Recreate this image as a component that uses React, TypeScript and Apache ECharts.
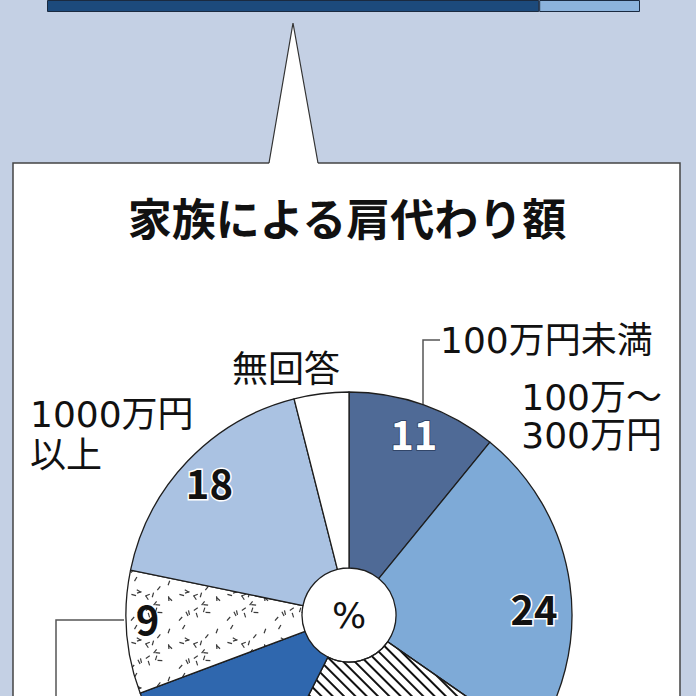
import React, { useEffect, useRef } from 'react';
import * as echarts from 'echarts';

// 家族による肩代わり額 (%), clockwise from 12 o'clock
const categories = [
  '100万円未満',
  '100万〜300万円',
  '300万〜500万円',
  '500万〜700万円',
  '700万〜1000万円',
  '1000万円以上',
  '無回答'
];
const shares = [11, 24, 23, 12, 9, 18, 4];
const sliceColors = ['#4f6a96', '#7eaad7', '#ffffff', '#2f67ae', '#ffffff', '#aac2e2', '#ffffff'];

// cropped stacked bar of the chart above
const barSegments = [83, 17];
const barColors = ['#1c4a7c', '#8cb3dc'];

const JP = "'Noto Sans CJK JP', 'Noto Sans', sans-serif";
const LABEL_FONT = "'DejaVu Sans', 'Noto Sans CJK JP', sans-serif";

// speckled texture for the 700万〜1000万円 slice
function makeSpeckle(): HTMLCanvasElement {
  const size = 48;
  const c = document.createElement('canvas');
  c.width = size;
  c.height = size;
  const ctx = c.getContext('2d')!;
  ctx.fillStyle = '#ffffff';
  ctx.fillRect(0, 0, size, size);
  ctx.strokeStyle = '#3a3a3a';
  ctx.lineWidth = 1.2;
  let seed = 11;
  const rnd = () => {
    seed = (seed * 16807) % 2147483647;
    return seed / 2147483647;
  };
  for (let i = 0; i < 20; i++) {
    const x = 3 + rnd() * (size - 6);
    const y = 3 + rnd() * (size - 6);
    const a = rnd() * Math.PI;
    const l = 2.4;
    ctx.beginPath();
    ctx.moveTo(x - Math.cos(a) * l, y - Math.sin(a) * l);
    ctx.lineTo(x + Math.cos(a) * l, y + Math.sin(a) * l);
    ctx.stroke();
  }
  return c;
}

// the 300万〜 and 500万〜 numbers sit below the crop, so they are hidden
const numberLabel = [
  { color: '#ffffff', textBorderColor: '#2b3d5e', textBorderWidth: 1.5 },
  { color: '#111111', textBorderColor: '#ffffff', textBorderWidth: 3, formatter: '\n{c}', lineHeight: 40, padding: [0, 12, 0, 0] },
  { show: false },
  { show: false },
  { color: '#111111', padding: [0, 18, 0, 0], formatter: '{c}\n', lineHeight: 24 },
  { color: '#111111', textBorderColor: '#ffffff', textBorderWidth: 3 },
  { show: false }
];

const App: React.FC = () => {
  const chartRef = useRef<HTMLDivElement>(null);

  useEffect(() => {
    if (!chartRef.current) return;
    const chart = echarts.init(chartRef.current, null, { renderer: 'svg' });

    const speckle = makeSpeckle();
    const center = [349, 615];

    const pieData = categories.map((name, i) => {
      const itemStyle: any = { color: sliceColors[i] };
      if (i === 2) {
        itemStyle.decal = {
          symbol: 'rect',
          symbolSize: 1,
          color: '#111111',
          dashArrayX: [1, 0],
          dashArrayY: [1.5, 5.8],
          rotation: Math.PI / 4
        };
      }
      if (i === 4) {
        itemStyle.color = { image: speckle, repeat: 'repeat' };
      }
      return { name, value: shares[i], itemStyle };
    });

    const labelData = categories.map((name, i) => ({
      name,
      value: shares[i],
      label: numberLabel[i]
    }));

    const option: any = {
      animation: false,
      backgroundColor: '#c4d0e4',
      grid: { left: 47, right: 56, top: -12, height: 24 },
      xAxis: { type: 'value', min: 0, max: 100, show: false },
      yAxis: { type: 'category', data: ['all'], show: false },
      graphic: [
        {
          type: 'rect',
          z: 0,
          shape: { x: 13, y: 163, width: 667, height: 600 },
          style: { fill: '#ffffff', stroke: '#444444', lineWidth: 1.5 }
        },
        {
          type: 'polygon',
          z: 1,
          shape: { points: [[269, 164], [293, 23], [318, 164]] },
          style: { fill: '#ffffff' }
        },
        {
          type: 'polyline',
          z: 1,
          shape: { points: [[269, 163], [293, 23], [318, 163]] },
          style: { stroke: '#333333', lineWidth: 1.2, fill: null }
        },
        {
          type: 'text',
          z: 5,
          x: 347,
          y: 217,
          style: {
            text: '家族による肩代わり額',
            font: `bold 44px ${JP}`,
            fill: '#111111',
            align: 'center',
            verticalAlign: 'middle'
          }
        },
        {
          type: 'text',
          z: 5,
          x: 440,
          y: 340,
          style: { text: categories[0], font: `36px ${LABEL_FONT}`, fill: '#111111', align: 'left', verticalAlign: 'middle' }
        },
        {
          type: 'polyline',
          z: 5,
          shape: { points: [[440, 340], [423, 340], [423, 404]] },
          style: { stroke: '#555555', lineWidth: 1.5, fill: null }
        },
        {
          type: 'text',
          z: 5,
          x: 662,
          y: 378,
          style: {
            text: '100万〜\n300万円',
            font: `36px ${LABEL_FONT}`,
            lineHeight: 38,
            fill: '#111111',
            align: 'right',
            verticalAlign: 'top'
          }
        },
        {
          type: 'text',
          z: 5,
          x: 30,
          y: 394,
          style: {
            text: '1000万円\n以上',
            font: `36px ${LABEL_FONT}`,
            lineHeight: 41,
            fill: '#111111',
            align: 'left',
            verticalAlign: 'top'
          }
        },
        {
          type: 'text',
          z: 5,
          x: 232,
          y: 366,
          style: { text: categories[6], font: `36px ${JP}`, fill: '#111111', align: 'left', verticalAlign: 'middle' }
        },
        {
          type: 'polyline',
          z: 5,
          shape: { points: [[124, 620], [56, 620], [56, 700]] },
          style: { stroke: '#555555', lineWidth: 1.5, fill: null }
        },
        {
          type: 'text',
          z: 5,
          x: center[0],
          y: center[1],
          style: { text: '%', font: `36px ${LABEL_FONT}`, fill: '#111111', align: 'center', verticalAlign: 'middle' }
        }
      ],
      series: [
        {
          type: 'bar',
          stack: 'total',
          barWidth: '100%',
          silent: true,
          data: [barSegments[0]],
          itemStyle: { color: barColors[0], borderColor: '#1a2a40', borderWidth: 1 }
        },
        {
          type: 'bar',
          stack: 'total',
          barWidth: '100%',
          silent: true,
          data: [barSegments[1]],
          itemStyle: { color: barColors[1], borderColor: '#1a2a40', borderWidth: 1 }
        },
        {
          type: 'pie',
          z: 3,
          center,
          radius: [47, 223],
          startAngle: 90,
          clockwise: true,
          silent: true,
          label: { show: false },
          labelLine: { show: false },
          itemStyle: { borderColor: '#1e1e1e', borderWidth: 1.3 },
          data: pieData
        },
        {
          type: 'pie',
          z: 4,
          center,
          radius: [158, 222],
          startAngle: 90,
          clockwise: true,
          silent: true,
          itemStyle: { color: 'rgba(0,0,0,0)', borderWidth: 0 },
          labelLine: { show: false },
          label: {
            show: true,
            position: 'inside',
            formatter: '{c}',
            fontFamily: JP,
            fontSize: 40,
            fontWeight: 'bold',
            color: '#111111'
          },
          data: labelData
        }
      ]
    };

    chart.setOption(option);

    return () => {
      chart.dispose();
    };
  }, []);

  return (
    <div
      ref={chartRef}
      style={{ position: 'fixed', left: 0, top: 0, width: 696, height: 696 }}
    />
  );
};

export default App;
